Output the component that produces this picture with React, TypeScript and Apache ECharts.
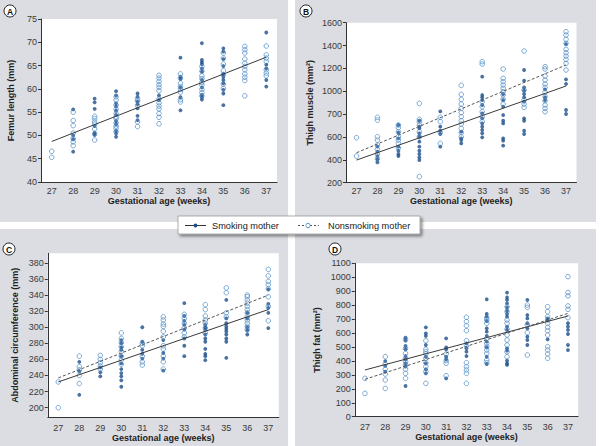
import React, { useRef, useEffect } from "react";
import * as echarts from "echarts";

// gestational age categories (weeks)
const weeks = ["27", "28", "29", "30", "31", "32", "33", "34", "35", "36", "37"];

// A: femur length (mm), one list per week
const femurSmoking = [
  [],
  [55.6, 50.0, 49.2, 46.5],
  [57.9, 57.1, 55.7, 52.0, 50.6, 50.1],
  [59.5, 58.6, 56.9, 56.2, 55.3, 54.4, 53.1, 52.4, 51.0, 50.4, 49.7],
  [59.0, 58.3, 57.3, 56.7, 55.8, 54.2, 53.3],
  [58.6, 57.6],
  [66.7, 62.6, 62.1, 60.3, 58.2, 55.4],
  [69.8, 66.2, 65.7, 65.3, 64.4, 63.7, 61.9, 60.3, 58.7, 58.2, 57.7],
  [68.7, 68.0, 66.4, 64.9, 63.2, 62.6, 61.9, 61.2, 59.8, 59.0, 56.5],
  [],
  [72.1, 65.2, 64.4, 61.9, 60.5],
];
const femurNonsmoking = [
  [46.6, 45.3],
  [55.0, 53.2, 52.1, 50.5, 49.3, 48.6, 47.8],
  [54.1, 53.6, 52.9, 52.4, 51.4, 50.3, 49.0],
  [58.3, 57.6, 56.5, 55.6, 54.7, 54.0, 53.6, 52.7, 52.0, 51.5, 50.8],
  [57.9, 57.4, 56.4, 52.9, 51.9],
  [62.9, 62.3, 61.6, 60.9, 60.3, 59.6, 57.8, 57.0, 56.3, 55.7, 54.7, 53.9, 52.5],
  [63.2, 62.3, 61.2, 60.5, 59.9, 59.3, 57.7, 57.2],
  [64.8, 63.8, 62.8, 62.2, 61.4, 60.8, 59.9, 59.2, 58.5],
  [67.7, 66.6, 65.3, 63.9, 63.1, 61.0, 60.1],
  [69.1, 68.4, 67.7, 66.4, 65.5, 64.8, 64.1, 63.2, 62.5, 61.8, 58.5],
  [69.2, 67.3, 66.6, 65.9, 64.1, 63.4, 62.8],
];
const femurFit = [48.7, 66.8]; // at 27 and 37 weeks

// B: thigh muscle (mm²)
const muscleSmoking = [
  [],
  [515, 471, 433, 404, 378],
  [705, 638, 588, 515, 480, 451, 433],
  [742, 690, 675, 632, 602, 559, 515, 480, 451, 422, 398],
  [824, 690, 655, 626, 515],
  [646, 588, 573, 544],
  [1128, 967, 947, 923, 880, 807, 763, 719, 690, 661, 632, 597],
  [976, 923, 865, 792, 742, 719, 588, 568, 524],
  [1186, 1093, 1034, 1005, 976, 947, 909, 763, 742, 655, 626],
  [1017, 947, 923],
  [1413, 1104, 1064, 836, 801],
];
const muscleNonsmoking = [
  [594, 433],
  [772, 748, 602, 573, 530, 492, 451, 410],
  [705, 681, 646, 602, 573, 544, 503],
  [894, 754, 734, 705, 646, 602, 253],
  [772, 734, 638, 544],
  [1052, 973, 929, 888, 850, 813, 778, 742, 713, 675, 638, 602],
  [1259, 1238, 909, 865, 821, 778, 734],
  [1195, 1113, 1084, 1055, 1025, 996, 967, 929, 888],
  [1352, 1011, 923, 888, 859],
  [1215, 1195, 1133, 1098, 1064, 1034, 990, 953, 918, 880, 850, 821],
  [1521, 1492, 1454, 1419, 1367, 1337, 1308, 1279, 1244, 1186],
];
const muscleFitSmoking = [398, 1046];
const muscleFitNonsmoking = [462, 1230];
const muscleTicks = [200, 400, 600, 800, 1000, 1200, 1400, 1600];
const muscleTickLabels = ["200", "400", "600", "700", "1000", "1200", "1400", "1600"];

// C: abdominal circumference (mm)
const abdSmoking = [
  [],
  [257, 245, 216],
  [250, 244, 239],
  [284, 280, 275, 272, 264, 255, 248, 243, 239, 234, 226],
  [300, 282, 272, 267, 261],
  [284, 268, 261, 246],
  [330, 314, 308, 303, 297, 286, 277, 264],
  [303, 300, 297, 291, 286, 282, 273, 267, 264, 259],
  [334, 311, 305, 301, 298, 295, 291, 286, 282, 262],
  [318, 311, 300, 296, 291],
  [347, 329, 324, 318, 299],
];
const abdNonsmoking = [
  [232, 200],
  [264, 251, 247, 240, 230],
  [265, 260, 256, 252, 248],
  [293, 286, 281, 276, 270, 264, 259, 254],
  [280, 277, 264, 257, 253],
  [313, 309, 304, 301, 295, 288, 277, 273, 264, 257, 248],
  [316, 311, 305, 299, 293, 288],
  [328, 322, 314, 309, 305, 299, 293],
  [349, 343, 318, 313],
  [340, 338, 334, 330, 326, 322, 318, 313, 309, 305, 301, 297],
  [372, 364, 357, 353, 348, 338, 326, 308],
];
const abdFitSmoking = [232, 322];
const abdFitNonsmoking = [237, 340];
const abdTicks = [200, 220, 240, 260, 280, 300, 320, 340, 360, 380];

// D: thigh fat (mm²)
const fatSmoking = [
  [],
  [399, 364, 323],
  [567, 545, 507, 483, 435, 411, 383, 359, 220],
  [641, 598, 579, 514, 430, 383, 340, 311],
  [562, 497, 483, 430, 411, 275],
  [526, 490, 466, 435],
  [842, 737, 717, 686, 634, 610, 579, 538, 497, 430, 378],
  [890, 856, 837, 813, 784, 760, 737, 717, 646, 622, 490, 474, 402, 383, 371],
  [837, 729, 705, 670, 634, 574, 550, 514],
  [705, 694, 555],
  [670, 646, 622, 593, 514, 478],
];
const fatNonsmoking = [
  [275, 167],
  [430, 378, 340, 306, 263, 203],
  [555, 490, 454, 419, 395, 371, 340, 311, 275],
  [545, 483, 466, 450, 419, 387, 359, 323, 239],
  [450, 402, 383, 294],
  [713, 682, 653, 617, 545, 507, 387, 359, 335, 311, 239],
  [710, 694, 670, 562, 526, 502, 478, 454, 407, 387],
  [789, 753, 694, 670, 627, 586, 550, 514, 466, 430],
  [801, 784, 658, 603, 442],
  [789, 753, 717, 694, 670, 641, 617, 586, 502, 478, 450, 419],
  [1004, 890, 866, 794, 770, 710],
];
const fatFitSmoking = [335, 722];
const fatFitNonsmoking = [268, 741];

const FONT = "'Liberation Sans', Arial, Helvetica, sans-serif";
const DARK_BLUE = "#1b4d8a";
const LIGHT_BLUE = "#4a88c4";
const AXIS = "#333";

const points = (byWeek: number[][]) =>
  byWeek.flatMap((vals, i) => vals.map((v) => [weeks[i], v]));
const fitLine = (fit: number[]) => [
  [weeks[0], fit[0]],
  [weeks[weeks.length - 1], fit[1]],
];

const App = () => {
  const chartRef = useRef<HTMLDivElement>(null);

  useEffect(() => {
    const chart = echarts.init(chartRef.current, null, { renderer: "svg" });

    const grids = [
      { left: 41, top: 19, width: 236, height: 163 },
      { left: 346, top: 22.7, width: 230.5, height: 160 },
      { left: 47.8, top: 253.3, width: 231, height: 164 },
      { left: 354.8, top: 263.3, width: 223.3, height: 153.4 },
    ].map((g) => ({ ...g, show: true, backgroundColor: "#fff", borderWidth: 0 }));

    const xNameGap = [14, 14, 16, 16];
    const labelMargin = [4, 4, 6, 6];
    const xAxis = grids.map((_, i) => ({
      type: "category",
      gridIndex: i,
      data: weeks,
      boundaryGap: true,
      name: "Gestational age (weeks)",
      nameLocation: "middle",
      nameGap: xNameGap[i],
      nameTextStyle: { fontFamily: FONT, fontSize: 9, fontWeight: "bold", color: "#222" },
      axisLine: { lineStyle: { color: AXIS, width: 1 } },
      axisTick: { alignWithLabel: true, interval: 0, length: 3, lineStyle: { color: AXIS } },
      axisLabel: { interval: 0, margin: labelMargin[i], fontFamily: FONT, fontSize: 9, color: "#3a3a3a" },
      splitLine: { show: false },
    }));

    const yCommon = {
      type: "value",
      nameLocation: "middle",
      nameTextStyle: { fontFamily: FONT, fontSize: 9, fontWeight: "bold", color: "#222" },
      axisLine: { show: true, lineStyle: { color: AXIS, width: 1 } },
      axisTick: { show: true, length: 3, lineStyle: { color: AXIS } },
      axisLabel: {
        margin: 4,
        fontFamily: FONT,
        fontSize: 9,
        color: "#3a3a3a",
        formatter: (v: number) => String(v),
      },
      splitLine: { show: false },
    };
    const yAxis = [
      { ...yCommon, gridIndex: 0, name: "Femur length (mm)", nameGap: 26, min: 40, max: 75, interval: 5 },
      {
        ...yCommon,
        gridIndex: 1,
        name: "Thigh muscle (mm²)",
        nameGap: 32,
        min: 200,
        max: 1600,
        interval: 200,
        axisLabel: {
          ...yCommon.axisLabel,
          formatter: (v: number) => {
            const k = muscleTicks.indexOf(v);
            return k >= 0 ? muscleTickLabels[k] : String(v);
          },
        },
      },
      {
        ...yCommon,
        gridIndex: 2,
        name: "Abdominal circumference (mm)",
        nameGap: 28,
        min: 188,
        max: 392,
        axisTick: { ...yCommon.axisTick, customValues: abdTicks },
        axisLabel: { ...yCommon.axisLabel, customValues: abdTicks },
      },
      { ...yCommon, gridIndex: 3, name: "Thigh fat (mm²)", nameGap: 33, min: 0, max: 1100, interval: 100 },
    ];

    const panels = [
      { s: femurSmoking, n: femurNonsmoking, fs: femurFit, fn: null },
      { s: muscleSmoking, n: muscleNonsmoking, fs: muscleFitSmoking, fn: muscleFitNonsmoking },
      { s: abdSmoking, n: abdNonsmoking, fs: abdFitSmoking, fn: abdFitNonsmoking },
      { s: fatSmoking, n: fatNonsmoking, fs: fatFitSmoking, fn: fatFitNonsmoking },
    ];

    const series: any[] = [];
    panels.forEach((p, i) => {
      series.push({
        type: "scatter",
        name: "Smoking mother",
        xAxisIndex: i,
        yAxisIndex: i,
        symbol: "circle",
        symbolSize: 3.8,
        itemStyle: { color: DARK_BLUE },
        data: points(p.s),
        z: 2,
      });
      series.push({
        type: "scatter",
        name: "Nonsmoking mother",
        xAxisIndex: i,
        yAxisIndex: i,
        symbol: "circle",
        symbolSize: 4.6,
        itemStyle: { color: "rgba(255,255,255,0)", borderColor: LIGHT_BLUE, borderWidth: 0.9 },
        data: points(p.n),
        z: 3,
      });
      series.push({
        type: "line",
        name: "Smoking mother fit",
        xAxisIndex: i,
        yAxisIndex: i,
        showSymbol: false,
        lineStyle: { color: "#3a3a3a", width: 1 },
        data: fitLine(p.fs),
        z: 4,
      });
      if (p.fn) {
        series.push({
          type: "line",
          name: "Nonsmoking mother fit",
          xAxisIndex: i,
          yAxisIndex: i,
          showSymbol: false,
          lineStyle: { color: "#555", width: 1, type: [3, 2] },
          data: fitLine(p.fn),
          z: 4,
        });
      }
    });

    const panelBg = [
      { x: 0, y: 0, width: 288, height: 222 },
      { x: 295, y: 0, width: 301, height: 222 },
      { x: 0, y: 229, width: 288, height: 217 },
      { x: 295, y: 229, width: 301, height: 217 },
    ];
    const panelLabels = [
      { t: "A", x: 10, y: 11 },
      { t: "B", x: 306, y: 11 },
      { t: "C", x: 9, y: 249 },
      { t: "D", x: 335, y: 249 },
    ];

    const graphic: any[] = [
      ...panelBg.map((r) => ({
        type: "rect",
        z: -10,
        silent: true,
        shape: r,
        style: { fill: "#dbdde2" },
      })),
      ...panelLabels.flatMap((l) => [
        {
          type: "circle",
          z: 50,
          shape: { cx: l.x, cy: l.y, r: 6 },
          style: { fill: "#fff", stroke: "#222", lineWidth: 1 },
        },
        {
          type: "text",
          z: 51,
          x: l.x,
          y: l.y + 0.5,
          style: {
            text: l.t,
            fill: "#111",
            font: `bold 8.5px ${FONT}`,
            align: "center",
            verticalAlign: "middle",
          },
        },
      ]),
      // legend box
      {
        type: "rect",
        z: 60,
        shape: { x: 178, y: 216, width: 242, height: 18 },
        style: {
          fill: "#fff",
          stroke: "#999",
          lineWidth: 0.8,
          shadowBlur: 3,
          shadowOffsetX: 2,
          shadowOffsetY: 2,
          shadowColor: "rgba(0,0,0,0.45)",
        },
      },
      {
        type: "line",
        z: 61,
        shape: { x1: 185, y1: 225.5, x2: 206, y2: 225.5 },
        style: { stroke: "#333", lineWidth: 1 },
      },
      {
        type: "circle",
        z: 62,
        shape: { cx: 195.5, cy: 225.5, r: 1.9 },
        style: { fill: DARK_BLUE },
      },
      {
        type: "text",
        z: 61,
        x: 212,
        y: 225.5,
        style: { text: "Smoking mother", fill: "#222", font: `9.2px ${FONT}`, align: "left", verticalAlign: "middle" },
      },
      {
        type: "line",
        z: 61,
        shape: { x1: 298, y1: 225.5, x2: 319, y2: 225.5 },
        style: { stroke: "#555", lineWidth: 1, lineDash: [2, 2] },
      },
      {
        type: "circle",
        z: 62,
        shape: { cx: 308, cy: 225.5, r: 2.2 },
        style: { fill: "#fff", stroke: LIGHT_BLUE, lineWidth: 0.9 },
      },
      {
        type: "text",
        z: 61,
        x: 328,
        y: 225.5,
        style: { text: "Nonsmoking mother", fill: "#222", font: `9.2px ${FONT}`, align: "left", verticalAlign: "middle" },
      },
    ];

    chart.setOption({
      animation: false,
      backgroundColor: "#fff",
      textStyle: { fontFamily: FONT },
      grid: grids,
      xAxis,
      yAxis,
      series,
      graphic,
    });

    return () => {
      chart.dispose();
    };
  }, []);

  return (
    <div
      ref={chartRef}
      style={{ position: "absolute", left: 0, top: 0, width: 600, height: 446 }}
    />
  );
};

export default App;
